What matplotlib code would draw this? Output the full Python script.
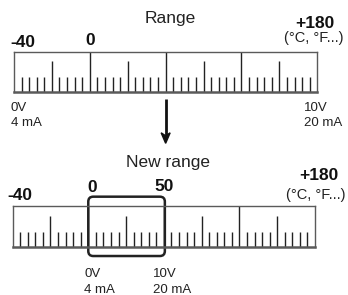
import matplotlib
matplotlib.use("Agg")
import matplotlib.pyplot as plt
from matplotlib.patches import FancyBboxPatch, Polygon
from matplotlib.transforms import blended_transform_factory

plt.rcParams['font.family'] = ['Liberation Sans', 'DejaVu Sans']

# ---- data ----
n_div = 40                      # minor divisions on each ruler
major_every = 10
medium_every = 5
top_title = "Range"
bottom_title = "New range"
top_scale_labels = ["-40", "0", "+180"]
top_scale_pos = [1.2, 10.0, 39.7]
bottom_scale_labels = ["-40", "0", "50", "+180"]
bottom_scale_pos = [0.9, 10.5, 20.1, 40.5]
unit_label = "(°C, °F...)"
top_out_labels = [("0V", "4 mA"), ("10V", "20 mA")]
top_out_pos = [-0.4, 38.3]
bottom_out_labels = [("0V", "4 mA"), ("10V", "20 mA")]
bottom_out_pos = [9.5, 18.6]
new_range = (10, 20)

W, H = 348, 295
fig = plt.figure(figsize=(W / 100, H / 100), dpi=100)
fig.patch.set_facecolor("white")

overlay = fig.add_axes([0, 0, 1, 1])
overlay.set_xlim(0, W)
overlay.set_ylim(H, 0)
overlay.axis("off")


def make_ruler(left, top, right, bottom, med_h, small_h):
    ax = fig.add_axes([left / W, 1 - bottom / H, (right - left) / W, (bottom - top) / H])
    ax.set_xlim(0, n_div)
    ax.set_ylim(0, 1)
    ax.set_xticks([])
    ax.set_yticks([])
    ax.patch.set_alpha(0)
    for s in ["top", "left", "right"]:
        ax.spines[s].set_color("#5a5a5a")
        ax.spines[s].set_linewidth(1.0)
    ax.spines["bottom"].set_color("#5a5a5a")
    ax.spines["bottom"].set_linewidth(1.8)
    for i in range(1, n_div):
        if i % major_every == 0:
            h = 1.0
        elif i % medium_every == 0:
            h = med_h
        else:
            h = small_h
        ax.vlines(i, 0, h, color="#222222", linewidth=1.0)
    return ax


ax1 = make_ruler(14, 52.3, 317.3, 91.7, 0.787, 0.365)
ax2 = make_ruler(12.7, 206, 315, 246.7, 0.76, 0.37)

tr1 = blended_transform_factory(ax1.transData, ax1.transAxes)
tr2 = blended_transform_factory(ax2.transData, ax2.transAxes)

# titles
ax1.text(20.6, 1.75, top_title, transform=tr1, ha="center", va="baseline",
         fontsize=12.5, color="#222222", clip_on=False)
ax2.text(20.5, 1.966, bottom_title, transform=tr2, ha="center", va="baseline",
         fontsize=12.5, color="#222222", clip_on=False)

# top scale labels
top_y = [1.142, 1.185, 1.609]
for lab, x, y in zip(top_scale_labels, top_scale_pos, top_y):
    ax1.text(x, y, lab, transform=tr1, ha="center", va="baseline",
             fontsize=12.5, fontweight="bold", color="#111111", clip_on=False)
ax1.text(43.4, 1.249, unit_label, transform=tr1, ha="right", va="baseline",
         fontsize=10.5, color="#222222", clip_on=False)

bot_y = [1.147, 1.351, 1.376, 1.639]
for lab, x, y in zip(bottom_scale_labels, bottom_scale_pos, bot_y):
    ax2.text(x, y, lab, transform=tr2, ha="center", va="baseline",
             fontsize=12.5, fontweight="bold", color="#111111", clip_on=False)
ax2.text(36.15, 1.184, unit_label, transform=tr2, ha="left", va="baseline",
         fontsize=10.5, color="#222222", clip_on=False)

# output labels
for (l1, l2), x in zip(top_out_labels, top_out_pos):
    ax1.text(x, -0.50, l1, transform=tr1, ha="left", va="baseline",
             fontsize=9.5, color="#222222", clip_on=False)
    ax1.text(x, -0.88, l2, transform=tr1, ha="left", va="baseline",
             fontsize=9.5, color="#222222", clip_on=False)
for (l1, l2), x in zip(bottom_out_labels, bottom_out_pos):
    ax2.text(x, -0.737, l1, transform=tr2, ha="left", va="baseline",
             fontsize=9.5, color="#222222", clip_on=False)
    ax2.text(x, -1.13, l2, transform=tr2, ha="left", va="baseline",
             fontsize=9.5, color="#222222", clip_on=False)

# highlight box around new range (convert to overlay pixel coords)
inv = overlay.transData.inverted()
p0 = inv.transform(tr2.transform((new_range[0], 1.229)))
p1 = inv.transform(tr2.transform((new_range[1], -0.229)))
x0, y0 = p0
x1, y1 = p1
box = FancyBboxPatch((x0, y0), x1 - x0 + 1, y1 - y0,
                     boxstyle="round,pad=0,rounding_size=5",
                     linewidth=1.8, edgecolor="#222222", facecolor="none")
overlay.add_patch(box)

# arrow from top ruler to bottom
ax_x = inv.transform(tr1.transform((20, 0)))[0]
y_start, y_tip = 99, 143.3
overlay.plot([ax_x, ax_x], [y_start, y_tip - 7], color="#111111", linewidth=2.0,
             solid_capstyle="butt")
head = Polygon([(ax_x, y_tip), (ax_x - 4.5, y_tip - 10.5), (ax_x, y_tip - 7.5),
                (ax_x + 4.5, y_tip - 10.5)], closed=True, color="#111111")
overlay.add_patch(head)

fig.savefig("out.png", dpi=100, facecolor="white")
